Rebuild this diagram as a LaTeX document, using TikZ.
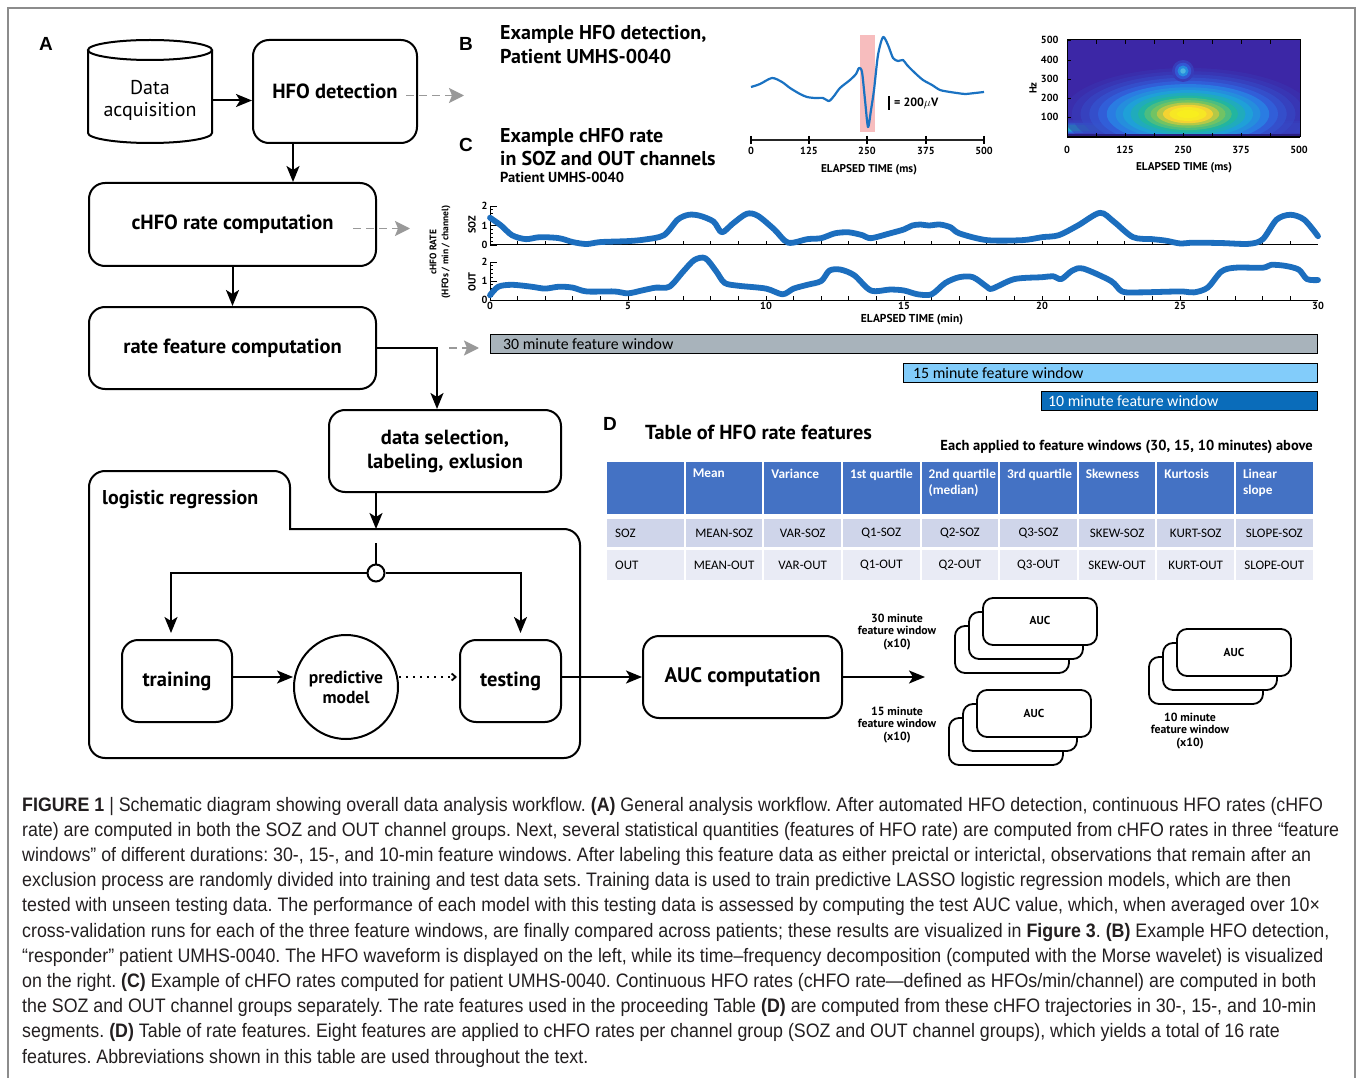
\documentclass[tikz,border=0pt]{standalone}
\usepackage{fontspec}
\setmainfont{PT Sans}
\newfontfamily\capfont[FakeStretch=0.913]{Liberation Sans}
\newfontfamily\tabfont{Carlito}
\newfontfamily\labfont{Liberation Sans}
\usetikzlibrary{arrows.meta,calc}
\newcommand{\fs}[2]{\fontsize{#1}{#2}\selectfont}
\definecolor{rateblue}{HTML}{1C6EBE}
\definecolor{waveblue}{HTML}{1A72C2}
\definecolor{hfopink}{HTML}{F7BDBE}
\definecolor{bargray}{HTML}{A8B3BB}
\definecolor{barlight}{HTML}{82CCFA}
\definecolor{bardark}{HTML}{0A6CBA}
\definecolor{tabhead}{HTML}{4472C4}
\definecolor{tabrowa}{HTML}{CFD5EA}
\definecolor{tabrowb}{HTML}{E9EBF5}
\definecolor{parbg}{HTML}{3C27A6}
\definecolor{pardeep}{HTML}{2A1E80}
\definecolor{pyel}{HTML}{F8EE1E}
\definecolor{porange}{HTML}{F2C83A}
\definecolor{pgreen}{HTML}{8CC850}
\definecolor{pteal}{HTML}{22B5A0}
\definecolor{pcyan}{HTML}{1FA0D8}
\definecolor{pblue}{HTML}{2F6CE6}
\definecolor{framegray}{HTML}{8C8C8C}
\definecolor{captext}{HTML}{231F20}
\tikzset{
 box/.style={draw, line width=2pt, rounded corners=16pt, align=center, font=\fs{20.5}{24}\bfseries},
 arr/.style={line width=2pt, -{Stealth[length=16pt,width=13pt,inset=4pt]}},
 garr/.style={line width=1.8pt, draw=gray!80, dash pattern=on 8pt off 5pt, -{Stealth[length=15pt,width=15pt,inset=3pt]}},
 aucbox/.style={draw, line width=1.8pt, rounded corners=10pt, fill=white, minimum width=114pt, minimum height=47pt, font=\fs{11.5}{13}\bfseries},
 smalllab/.style={font=\fs{11.8}{12.5}\bfseries, align=center},
 axlab/.style={font=\fs{11.3}{13}\bfseries},
 ticklab/.style={font=\fs{10.3}{12}\bfseries},
 panel/.style={font=\labfont\fs{19}{22}\bfseries},
 titlelab/.style={font=\fs{20}{24}\bfseries, anchor=west, inner sep=0},
 hcell/.style={fill=tabhead, minimum width=76.6pt, minimum height=52pt, anchor=north west, inner sep=0},
 acell/.style={fill=tabrowa, minimum width=76.6pt, minimum height=28pt, anchor=north west, inner sep=0},
 bcell/.style={fill=tabrowb, minimum width=76.6pt, minimum height=30pt, anchor=north west, inner sep=0},
 htext/.style={anchor=north west, inner sep=0, align=left, text=white, font=\tabfont\fs{13.3}{16}\bfseries},
 rtext/.style={inner sep=0, font=\tabfont\fs{13}{15}},
 winbar/.style={draw, line width=1pt, minimum height=19pt, anchor=north west, inner sep=0},
 wintext/.style={anchor=west, inner sep=0, font=\tabfont\fs{15.8}{18}},
 rate/.style={line width=5.8pt, rateblue, line cap=round, line join=round},
 capline/.style={anchor=base west, inner sep=0, font=\capfont\fs{19.5}{25}\frenchspacing, text=captext}
}
\begin{document}
\begin{tikzpicture}[x=1pt,y=-1pt]
\useasboundingbox (0,0) rectangle (1358,1078);
\fill[white] (0,0) rectangle (1358,1078);
\draw[framegray, line width=1.3pt] (8,1078) -- (8,8) -- (1355,8) -- (1355,1078);

% ---------- Panel A ----------
\node[panel] (labA) at (46,44) {A};
\draw[line width=2pt] (88,50) -- (88,133) arc[start angle=180, end angle=0, x radius=62, y radius=10] -- (212,50);
\draw[line width=2pt] (150,50) ellipse [x radius=62, y radius=10];
\node[minimum width=124pt, minimum height=103pt, align=center, font=\fs{20}{22}] (data) at (150,100) {Data\\acquisition};
\node[box, minimum width=164pt, minimum height=103pt] (hfo) at (335,91.5) {\raisebox{-4pt}{HFO detection}};
\node[box, minimum width=287pt, minimum height=83pt] (chfo) at (232.5,224.5) {cHFO rate computation};
\node[box, minimum width=287pt, minimum height=82pt] (rfeat) at (232.5,348) {rate feature computation};
\node[box, minimum width=232pt, minimum height=82pt] (dsel) at (445,451) {data selection,\\labeling, exlusion};

\draw[arr] ($(hfo.west)+(-41,9)$) -- ($(hfo.west)+(0,9)$);
\coordinate (h1) at ($(hfo.south)+(-42,0)$);
\draw[arr] (h1) -- (h1 |- chfo.north);
\draw[arr] (chfo.south) -- (rfeat.north);
\coordinate (r1) at ($(dsel.north)+(-8,0)$);
\draw[arr] (rfeat.east) -| (r1);
\draw[garr] ($(hfo.east)+(-12,4)$) -- ++(58,0);
\draw[garr] ($(chfo.east)+(-24,4)$) -- ++(57,0);
\draw[garr] ($(rfeat.east)+(72,0)$) -- ++(30,0);

% logistic regression container
\draw[line width=2pt, line cap=rect, rounded corners=16pt] (290,529) -- (580,529) -- (580,758) -- (89,758) -- (89,471) -- (290,471) -- (290,529);
\node[anchor=west, inner sep=0, font=\fs{20}{22}\bfseries] (lrlab) at (102,500) {logistic regression};
\coordinate (lrtop) at (376,529);
\draw[arr] (dsel.south -| lrtop) -- (lrtop);
\node[circle, draw, line width=2pt, fill=white, minimum size=17pt, inner sep=0] (junc) at (376,573) {};
\coordinate (jtop) at (376,543);
\draw[line width=2pt] (jtop) -- (junc.north);

\node[box, minimum width=110pt, minimum height=82pt] (train) at (177,681) {\raisebox{2pt}{training}};
\node[circle, draw, line width=2pt, minimum size=104pt, align=center, font=\fs{17.5}{20}\bfseries] (model) at (346,687) {predictive\\model};
\node[box, minimum width=101pt, minimum height=82pt] (test) at (510.5,681) {testing};
\coordinate (tr1) at ($(train.north)+(-6,-6)$);
\coordinate (te1) at ($(test.north)+(10,-6)$);
\draw[arr] (junc.west) -| (tr1);
\draw[arr] (junc.east) -| (te1);
\coordinate (yl) at (0,677);
\draw[arr] (train.east |- yl) -- (model.west |- yl);
\draw[line width=1.8pt, dash pattern=on 2pt off 5pt, -{Straight Barb[length=4pt,width=7pt]}] (model.east |- yl) -- ($(test.west |- yl)+(-2,0)$);

\node[box, minimum width=199pt, minimum height=82pt, font=\fs{21}{24}\bfseries] (aucc) at (742.5,677) {AUC computation};
\draw[arr] (test.east |- yl) -- (aucc.west |- yl);
\coordinate (stk) at (925,677);
\draw[arr] (aucc.east |- yl) -- (stk);

% AUC stacks
\node[aucbox] (a30c) at (1012,649.5) {};
\node[aucbox] (a30b) at (1026,635.5) {};
\node[aucbox] (a30a) at (1040,621.5) {\raisebox{2pt}{AUC}};
\node[aucbox] (a15c) at (1006,741.5) {};
\node[aucbox] (a15b) at (1020,727.5) {};
\node[aucbox] (a15a) at (1034,713.5) {AUC};
\node[aucbox] (a10c) at (1206,680.5) {};
\node[aucbox] (a10b) at (1220,666.5) {};
\node[aucbox] (a10a) at (1234,652.5) {AUC};
\node[smalllab] (l30) at (897,632) {30 minute\\feature window\\(x10)};
\node[smalllab] (l15) at (897,725) {15 minute\\feature window\\(x10)};
\node[smalllab] (l10) at (1190,731) {10 minute\\feature window\\(x10)};

% ---------- Panel B ----------
\node[panel] (labB) at (466,44) {B};
\node[titlelab] (tB1) at (500,34) {Example HFO detection,};
\node[titlelab] (tB2) at (500,57) {Patient UMHS-0040};
\fill[hfopink] (860,35) rectangle (875,132);
\draw[waveblue, line width=2.2pt, line join=round] plot[smooth, tension=0.45] coordinates {(751,87) (760,84) (772,78) (782,82) (790,88) (800,94) (807,97) (815,98) (823,98) (829,101) (834,96) (840,88) (850,80) (856,74) (859,68) (862,72) (865,100) (868,127) (871,110) (874,90) (878,55) (883,37) (888,45) (893,58) (898,61) (903,60) (907,65) (915,73) (923,80) (932,85) (940,90) (950,92) (957,93) (965,94) (975,93) (984,92)};
\draw[line width=1.6pt] (889,96) -- (889,110);
\node[anchor=west, inner sep=0, font=\fs{12}{13}\bfseries] (scl) at (894,103) {= 200$\mu$V};
\draw[line width=1.8pt, black!85] (750,140) -- (985,140);
\foreach \xx/\tt in {751/0,809/125,867/250,926/375,984/500} {
  \draw[line width=1.4pt] (\xx,136) -- (\xx,144);
  \node[ticklab] at (\xx,151) {\tt};
}
\node[axlab] (bx1) at (869,170) {ELAPSED TIME (ms)};

% spectrogram
\begin{scope}
\clip (1067,40) rectangle (1300,137);
\fill[parbg] (1067,40) rectangle (1300,137);
\foreach \s/\cc in {1/pblue!30!parbg, 0.8/pblue!55!parbg, 0.6/pcyan!40!pblue, 0.4/pcyan!60!pteal}
  \fill[\cc] (1085,128) ellipse [x radius=120*\s, y radius=8*\s];
\foreach \s/\cc in {1/pblue!30!parbg, 0.7/pblue!55!parbg}
  \fill[\cc] (1300,128) ellipse [x radius=70*\s, y radius=7*\s];
\foreach \s/\cc/\op in {1.00/pblue!20!parbg/0.5, 0.93/pblue!35!parbg/0.5, 0.86/pblue!50!parbg/0.6, 0.79/pblue!65!parbg/0.7, 0.72/pblue!85!parbg/0.8, 0.65/pcyan!30!pblue/1, 0.58/pcyan!65!pblue/1, 0.52/pcyan/1, 0.46/pteal!50!pcyan/1, 0.40/pteal/1, 0.35/pgreen!40!pteal/1, 0.30/pgreen!75!pteal/1, 0.25/pgreen!60!porange/1, 0.20/porange!70!pyel/1, 0.15/pyel!80!porange/1, 0.09/pyel/1}
  \fill[\cc, fill opacity=\op] (1188,114) ellipse [x radius=125*\s, y radius=46*\s];
\foreach \s/\cc in {1.0/pblue!30!parbg, 0.75/pblue!70!parbg, 0.5/pcyan!60!pblue, 0.25/pcyan!80!white}
  \fill[\cc] (1183,71) circle [radius=11*\s];
\fill[pardeep] (1067,134) rectangle (1300,137);
\end{scope}
\draw[line width=1pt] (1067,40) rectangle (1300,137);
\draw[line width=2pt] (1067,137) -- (1300,137);
\foreach \k in {0,...,8} {
  \draw[line width=0.8pt] (1067+\k*29.125,137) -- (1067+\k*29.125,133);
  \draw[line width=0.8pt] (1067+\k*29.125,40) -- (1067+\k*29.125,44);
}
\foreach \yy/\tt in {40/500,60/400,79/300,98/200,117/100} {
  \draw[line width=0.8pt] (1067,\yy) -- (1071,\yy);
  \node[ticklab, anchor=east] at (1062,\yy) {\tt};
}
\node[ticklab, rotate=90] (hz) at (1033,88) {Hz};
\foreach \xx/\tt in {1067/0,1125/125,1183/250,1241/375,1299/500} {
  \node[ticklab] at (\xx,150) {\tt};
}
\node[axlab] (bx2) at (1184,168) {ELAPSED TIME (ms)};

% ---------- Panel C ----------
\node[panel] (labC) at (466,145) {C};
\node[titlelab] (tC1) at (500,137) {Example cHFO rate};
\node[titlelab] (tC2) at (500,159) {in SOZ and OUT channels};
\node[titlelab, font=\fs{14.5}{16}\bfseries] (tC3) at (500,177) {Patient UMHS-0040};

\node[ticklab, rotate=90, font=\fs{9.5}{11}\bfseries] (cr1) at (433,252) {cHFO RATE};
\node[ticklab, rotate=90, font=\fs{9.5}{11}\bfseries] (cr2) at (446,252) {(HFOs / min / channel)};
\node[ticklab, rotate=90] (soz) at (472,225) {SOZ};
\node[ticklab, rotate=90] (outl) at (472,282) {OUT};

\begin{scope}[shift={(490,245)}, x=27.6pt, y=19.5pt]
  \draw[line width=1pt] (0,0) -- (30,0);
  \draw[line width=1pt] (0,0) -- (0,2);
  \foreach \t in {1,...,29} \draw[line width=0.8pt] (\t,0) -- (\t,0.2);
  \foreach \v in {0.2,0.4,0.6,0.8,1.2,1.4,1.6,1.8} \draw[line width=0.8pt] (0,\v) -- (0.12,\v);
  \foreach \v in {0,1,2} {
    \draw[line width=0.8pt] (0,\v) -- (0.25,\v);
    \node[ticklab, anchor=east, inner sep=1pt] at (-0.05,\v) {\v};
  }
  \draw[rate] plot[smooth, tension=0.5] coordinates {(0,1.4) (0.4,1.0) (0.8,0.5) (1.3,0.3) (1.8,0.4) (2.5,0.35) (3,0.15) (3.5,0.05) (4,0.15) (5,0.2) (5.6,0.28) (6.3,0.5) (6.8,1.3) (7.2,1.55) (7.6,1.5) (8.1,1.2) (8.4,0.65) (8.8,1.1) (9.3,1.6) (9.7,1.5) (10.3,0.8) (10.8,0.12) (11.5,0.3) (12,0.35) (12.5,0.6) (13,0.65) (13.5,0.5) (13.8,0.35) (14.5,0.6) (15,0.8) (15.3,1.0) (15.6,1.05) (15.9,1.0) (16.3,1.05) (16.7,0.9) (17,0.6) (18,0.25) (19.3,0.25) (20,0.4) (20.6,0.5) (21.3,1.0) (22.1,1.65) (22.6,1.2) (23.3,0.4) (24,0.3) (24.5,0.22) (25,0.08) (25.5,0.12) (26.5,0.1) (27.5,0.06) (28,0.3) (28.5,1.3) (29,1.55) (29.5,1.3) (30,0.45)};
\end{scope}

\begin{scope}[shift={(490,300)}, x=27.6pt, y=19pt]
  \draw[line width=1pt] (0,0) -- (30,0);
  \draw[line width=1pt] (0,0) -- (0,2);
  \foreach \t in {1,...,29} \draw[line width=0.8pt] (\t,0) -- (\t,0.2);
  \foreach \v in {0.2,0.4,0.6,0.8,1.2,1.4,1.6,1.8} \draw[line width=0.8pt] (0,\v) -- (0.12,\v);
  \foreach \v in {0,1,2} {
    \draw[line width=0.8pt] (0,\v) -- (0.25,\v);
    \node[ticklab, anchor=east, inner sep=1pt] at (-0.05,\v) {\v};
  }
  \foreach \t in {0,5,10,15,20,25,30} \node[ticklab, anchor=north, inner sep=1pt] at (\t,-0.05) {\t};
  \draw[rate] plot[smooth, tension=0.5] coordinates {(0,0.25) (0.3,0.7) (0.8,0.8) (1.5,0.7) (2,0.6) (2.5,0.7) (3,0.65) (3.5,0.45) (4.5,0.45) (5,0.35) (5.5,0.5) (6,0.65) (6.5,0.7) (7,1.5) (7.4,2.1) (7.8,2.2) (8.2,1.5) (8.5,0.9) (9,0.75) (10,0.6) (10.6,0.3) (11,0.6) (11.5,0.8) (12,1.0) (12.3,1.55) (12.7,1.6) (13.2,1.3) (13.8,0.5) (14.5,0.55) (15,0.5) (15.5,0.3) (16,0.3) (16.5,0.9) (17,1.2) (17.5,1.2) (18,0.7) (18.2,0.6) (19,1.1) (20,1.2) (20.4,1.25) (20.7,1.1) (21.1,1.55) (21.5,1.65) (22.5,1.0) (22.9,0.45) (23.5,0.4) (25,0.45) (25.5,0.4) (26,0.65) (26.5,1.5) (27,1.7) (28,1.7) (28.3,1.85) (28.8,1.8) (29.3,1.6) (29.6,1.1) (30,1.05)};
\end{scope}
\node[axlab, font=\fs{11.5}{13}\bfseries] (cx) at (912,320) {ELAPSED TIME (min)};

% feature windows
\node[winbar, fill=bargray, minimum width=827pt] (w30) at (490,334) {};
\node[winbar, fill=barlight, minimum width=414pt] (w15) at (903,363) {};
\node[winbar, fill=bardark, minimum width=276pt] (w10) at (1041,391) {};
\node[wintext] at ($(w30.west)+(13,0)$) {30 minute feature window};
\node[wintext] at ($(w15.west)+(10,0)$) {15 minute feature window};
\node[wintext, text=white] at ($(w10.west)+(7,0)$) {10 minute feature window};

% ---------- Panel D ----------
\node[panel] (labD) at (610,424) {D};
\node[titlelab, font=\fs{20.3}{24}\bfseries] (tD) at (645,432) {Table of HFO rate features};
\node[anchor=east, inner sep=0, font=\fs{14.5}{16}\bfseries] (tD2) at (1313,447) {Each applied to feature windows (30, 15, 10 minutes) above};
\foreach \i in {1,...,9} {
  \pgfmathsetmacro\xl{607+(\i-1)*78.6}
  \node[hcell] (h\i) at (\xl,462) {};
  \node[acell] (s\i) at (\xl,519) {};
  \node[bcell] (o\i) at (\xl,550) {};
}
\foreach \i/\t in {2/Mean,3/Variance,4/1st quartile,5/{2nd quartile\\(median)},6/3rd quartile,7/Skewness,8/Kurtosis,9/{Linear\\slope}}
  \node[htext] at ($(h\i.north west)+(7,7)$) {\t};
\node[rtext, anchor=west] at ($(s1.west)+(8,0)$) {SOZ};
\node[rtext, anchor=west] at ($(o1.west)+(8,0)$) {OUT};
\foreach \i/\t in {2/MEAN,3/VAR,4/Q1,5/Q2,6/Q3,7/SKEW,8/KURT,9/SLOPE} {
  \node[rtext] at (s\i) {\t-SOZ};
  \node[rtext] at (o\i) {\t-OUT};
}

% ---------- Caption ----------
\node[capline] (cap1) at (22,811) {\textbf{FIGURE 1} | Schematic diagram showing overall data analysis workflow. \textbf{(A)} General analysis workflow. After automated HFO detection, continuous HFO rates (cHFO};
\node[capline] (cap2) at (22,836.2) {rate) are computed in both the SOZ and OUT channel groups. Next, several statistical quantities (features of HFO rate) are computed from cHFO rates in three “feature};
\node[capline] (cap3) at (22,861.4) {windows” of different durations: 30-, 15-, and 10-min feature windows. After labeling this feature data as either preictal or interictal, observations that remain after an};
\node[capline] (cap4) at (22,886.6) {exclusion process are randomly divided into training and test data sets. Training data is used to train predictive LASSO logistic regression models, which are then};
\node[capline] (cap5) at (22,911.8) {tested with unseen testing data. The performance of each model with this testing data is assessed by computing the test AUC value, which, when averaged over 10×};
\node[capline] (cap6) at (22,937) {cross-validation runs for each of the three feature windows, are finally compared across patients; these results are visualized in \textbf{Figure 3}. \textbf{(B)} Example HFO detection,};
\node[capline] (cap7) at (22,962.2) {“responder” patient UMHS-0040. The HFO waveform is displayed on the left, while its time–frequency decomposition (computed with the Morse wavelet) is visualized};
\node[capline] (cap8) at (22,987.4) {on the right. \textbf{(C)} Example of cHFO rates computed for patient UMHS-0040. Continuous HFO rates (cHFO rate—defined as HFOs/min/channel) are computed in both};
\node[capline] (cap9) at (22,1012.6) {the SOZ and OUT channel groups separately. The rate features used in the proceeding Table \textbf{(D)} are computed from these cHFO trajectories in 30-, 15-, and 10-min};
\node[capline] (cap10) at (22,1037.8) {segments. \textbf{(D)} Table of rate features. Eight features are applied to cHFO rates per channel group (SOZ and OUT channel groups), which yields a total of 16 rate};
\node[capline] (cap11) at (22,1063) {features. Abbreviations shown in this table are used throughout the text.};
\end{tikzpicture}
\end{document}
